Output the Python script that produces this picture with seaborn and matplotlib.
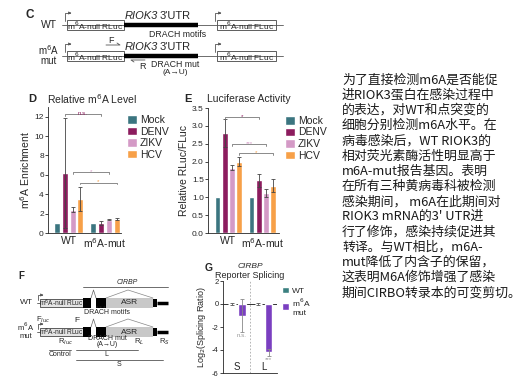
import numpy as np
import pandas as pd
import seaborn as sns
import matplotlib.pyplot as plt
from matplotlib.patches import Rectangle

# data
viruses = ['Mock', 'DENV', 'ZIKV', 'HCV']
groups = ['WT', 'm$^6$A-mut']
virus_colors = ['#3b7580', '#8c1c5e', '#d49ac6', '#f7a048']

# panel D: relative m6A level
d_wt = [1.0, 6.2, 2.4, 3.5]
d_mut = [1.0, 1.0, 1.35, 1.45]
d_wt_err = [0.0, 5.7, 0.25, 1.2]
d_mut_err = [0.0, 0.2, 0.05, 0.08]
d_ticks = [0, 2, 4, 6, 8, 10, 12]

# panel E: luciferase activity
e_wt = [1.0, 2.8, 1.83, 2.0]
e_mut = [1.0, 1.48, 1.12, 1.33]
e_wt_err = [0.0, 0.38, 0.07, 0.13]
e_mut_err = [0.0, 0.18, 0.1, 0.18]
e_ticks = [0.0, 0.5, 1.0, 1.5, 2.0, 2.5, 3.0, 3.5]

# panel G: reporter splicing
g_regions = ['S', 'L']
g_genotypes = ['WT', 'm$^6$A\nmut']
g_colors = ['#3b8080', '#7a3fc0']
g_wt = [0.0, 0.0]
g_mut = [-1.0, -4.2]
g_wt_err = [0.05, 0.05]
g_mut_err = [1.4, 0.3]
g_ticks = [2, 0, -2, -4, -6]

# significance: (virus index, level, label)
d_sig = [(1, 12.3, 'n.s.'), (2, 6.3, '*'), (3, 5.2, '*')]
e_sig = [(1, 3.25, '*'), (2, 2.5, '***'), (3, 2.23, '*')]

text_lines = [
    '为了直接检测m6A是否能促',
    '进RIOK3蛋白在感染过程中',
    '的表达，对WT和点突变的',
    '细胞分别检测m6A水平。在',
    '病毒感染后，WT RIOK3的',
    '相对荧光素酶活性明显高于',
    'm6A-mut报告基因。表明',
    '在所有三种黄病毒科被检测',
    '感染期间， m6A在此期间对',
    "RIOK3 mRNA的3' UTR进",
    '行了修饰，感染持续促进其',
    '转译。与WT相比，m6A-',
    'mut降低了内含子的保留，',
    '这表明M6A修饰增强了感染',
    '期间CIRBO转录本的可变剪切。',
]

sns.set_style('ticks')
plt.rcParams['font.family'] = ['Liberation Sans', 'DejaVu Sans']
plt.rcParams['axes.unicode_minus'] = False
plt.rcParams['axes.linewidth'] = 0.6

W, H = 521, 389
fig = plt.figure(figsize=(W / 100, H / 100), dpi=100)

bg = fig.add_axes([0, 0, 1, 1])
bg.set_xlim(0, W)
bg.set_ylim(H, 0)
bg.axis('off')


def px_axes(x0, y0, x1, y1):
    return fig.add_axes([x0 / W, 1 - y1 / H, (x1 - x0) / W, (y1 - y0) / H])


def bar_centers(ax):
    # bar centres by (category, hue) from seaborn's own containers
    centers = {}
    for hi, cont in enumerate(list(ax.containers)):
        for ci, bar in enumerate(cont):
            centers[(ci, hi)] = bar.get_x() + bar.get_width() / 2
    return centers


def bar_panel(ax, wt, mut, wt_err, mut_err, ticks, ylim, xlim, sig, ylabel):
    df = pd.DataFrame({
        'group': [groups[0]] * 4 + [groups[1]] * 4,
        'virus': viruses * 2,
        'value': wt + mut,
    })
    sns.barplot(data=df, x='group', y='value', hue='virus', hue_order=viruses,
                palette=virus_colors, errorbar=None, width=0.85, gap=0.22,
                saturation=1, ax=ax)
    errs = [wt_err, mut_err]
    vals = [wt, mut]
    centers = bar_centers(ax)
    for (gi, hi), cx in centers.items():
        if errs[gi][hi] > 0:
            ax.errorbar(cx, vals[gi][hi], yerr=errs[gi][hi], color='#444',
                        lw=0.6, capsize=1.5, capthick=0.6)
    for vi, lev, lab in sig:
        x0, x1 = centers[(0, vi)], centers[(1, vi)]
        tick = (ylim[1] - ylim[0]) * 0.015
        ax.plot([x0, x0, x1, x1], [lev - tick, lev, lev, lev - tick],
                color='#777', lw=0.6, clip_on=False)
        ax.text((x0 + x1) / 2, lev + tick * 0.3, lab, ha='center', va='center',
                fontsize=4.5, color=virus_colors[vi])
    ax.set_ylim(*ylim)
    ax.set_xlim(*xlim)
    ax.set_yticks(ticks)
    ax.tick_params(axis='y', labelsize=6, length=2, width=0.6, pad=1)
    ax.tick_params(axis='x', labelsize=7.5, length=0, pad=2)
    ax.set_xlabel('')
    ax.set_ylabel(ylabel, fontsize=7.5, labelpad=2)
    sns.despine(ax=ax)
    sns.move_legend(ax, 'upper left', bbox_to_anchor=(1.03, 0.97), frameon=False,
                    title=None, fontsize=7.5, handlelength=0.9, handleheight=0.9,
                    handletextpad=0.3, labelspacing=0.15, borderaxespad=0)


# panel D
axd = px_axes(48, 107, 121, 233)
bar_panel(axd, d_wt, d_mut, d_wt_err, d_mut_err, d_ticks, (0, 13), (-0.57, 1.44),
          d_sig, 'm$^6$A Enrichment')
axd.set_yticklabels([f'{t}' for t in d_ticks])
bg.text(32, 99, 'D', fontsize=8, fontweight='bold', va='center', ha='center')
bg.text(47, 99, 'Relative m$^6$A Level', fontsize=7.5, va='center', ha='left')

# panel E
axe = px_axes(208, 108, 279, 233)
bar_panel(axe, e_wt, e_mut, e_wt_err, e_mut_err, e_ticks, (0, 3.5), (-0.6, 1.49),
          e_sig, 'Relative RLuc/FLuc')
axe.set_yticklabels([f'{t:.1f}' for t in e_ticks])
bg.text(188, 99, 'E', fontsize=8, fontweight='bold', va='center', ha='center')
bg.text(207, 99, 'Luciferase Activity', fontsize=7.5, va='center', ha='left')

# panel G
axg = px_axes(223, 281, 277, 373)
gdf = pd.DataFrame({
    'region': g_regions * 2,
    'genotype': [g_genotypes[0]] * 2 + [g_genotypes[1]] * 2,
    'value': g_wt + g_mut,
})
sns.barplot(data=gdf, x='region', y='value', hue='genotype', hue_order=g_genotypes,
            palette=g_colors, errorbar=None, width=0.76, gap=0.25, saturation=1,
            ax=axg)
gvals = [g_wt, g_mut]
gerrs = [g_wt_err, g_mut_err]
for (ri, hi), cx in bar_centers(axg).items():
    axg.errorbar(cx, gvals[hi][ri], yerr=gerrs[hi][ri], color='#888' if hi else '#555',
                 lw=0.6, capsize=1.5, capthick=0.6)
    if hi == 1:
        lab = 'n.s.' if ri == 0 else '***'
        axg.text(cx, gvals[hi][ri] - gerrs[hi][ri] - 0.35, lab, ha='center',
                 va='center', fontsize=4.5, color='#999')
axg.axhline(0, color='#333', lw=0.7, zorder=0)
axg.axvline(0.5, color='#aaa', lw=0.6, ls=(0, (2, 2)))
axg.set_ylim(-6, 2)
axg.set_xlim(-0.53, 1.51)
axg.set_yticks(g_ticks)
axg.set_yticklabels([f'{t}' for t in g_ticks])
axg.tick_params(axis='y', labelsize=5.5, length=2, width=0.6, pad=1)
axg.tick_params(axis='x', labelsize=7, length=0, pad=-8)
axg.set_xlabel('')
axg.set_ylabel('Log$_2$(Splicing Ratio)', fontsize=6.5, labelpad=3)
sns.despine(ax=axg)
sns.move_legend(axg, 'upper left', bbox_to_anchor=(1.03, 0.97), frameon=False,
                title=None, fontsize=6, handlelength=0.9, handleheight=0.8,
                handletextpad=0.3, labelspacing=0.2, borderaxespad=0)
bg.text(209, 268, 'G', fontsize=7.5, fontweight='bold', va='center', ha='center')
bg.text(250, 267, 'CIRBP', fontsize=6, style='italic', va='center', ha='center')
bg.text(250, 275, 'Reporter Splicing', fontsize=6.5, va='center', ha='center')

# schematic C
line_c = '#555'


def box(x0, y0, x1, y1, label, fc='white', fs=6):
    bg.add_patch(Rectangle((x0, y0), x1 - x0, y1 - y0, fc=fc, ec='#444', lw=0.6))
    if label:
        bg.text((x0 + x1) / 2, (y0 + y1) / 2 + 0.5, label, fontsize=fs,
                ha='center', va='center')


def promoter(x, y, h=8, w=5):
    bg.plot([x, x, x + w], [y, y - h, y - h], color='#555', lw=0.6)
    bg.annotate('', xy=(x + w + 1.5, y - h), xytext=(x + w - 1, y - h),
                arrowprops=dict(arrowstyle='-|>', color='#555', lw=0.5,
                                mutation_scale=4))


bg.text(30, 15, 'C', fontsize=8.5, fontweight='bold', va='center', ha='center')
for yc in (25, 56):
    bg.plot([62, 283], [yc, yc], color=line_c, lw=0.6)
    box(67, yc - 5, 124, yc + 5, 'm$^6$A-null RLuc')
    box(217, yc - 5, 276, yc + 5, 'm$^6$A-null FLuc')
    bg.plot([124, 198], [yc, yc], color='black', lw=3.2, solid_capstyle='butt')
    promoter(65, yc - 4)
    promoter(215, yc - 4)
    bg.text(158, yc - 9, 'RIOK3', fontsize=8, style='italic', ha='right', va='center')
    bg.text(160, yc - 9, "3'UTR", fontsize=8, ha='left', va='center')
bg.text(49, 25, 'WT', fontsize=7.5, ha='center', va='center')
bg.text(49, 50, 'm$^6$A', fontsize=7, ha='center', va='center')
bg.text(49, 61, 'mut', fontsize=7, ha='center', va='center')
bg.text(178, 34, 'DRACH motifs', fontsize=6.3, ha='center', va='center')
bg.text(175, 64, 'DRACH mut', fontsize=6.3, ha='center', va='center')
bg.text(175, 72, '(A→U)', fontsize=6, ha='center', va='center')
bg.text(111, 40, 'F', fontsize=6.5, ha='center', va='center')
bg.plot([106, 120, 117], [45, 45, 43], color='#555', lw=0.6)
bg.text(142, 66, 'R', fontsize=6.5, ha='center', va='center')
bg.plot([145, 131, 134], [60, 60, 62], color='#555', lw=0.6)

# schematic F
bg.text(21, 276, 'F', fontsize=7, fontweight='bold', va='center', ha='center')
bg.plot([83, 168], [287, 287], color='#555', lw=0.6)
bg.text(127, 283, 'CIRBP', fontsize=5, style='italic', ha='center', va='center')
for yc in (303, 332):
    bg.plot([37, 40], [yc, yc], color='#555', lw=0.6)
    promoter(38, yc - 3, h=5, w=4)
    box(40, yc - 4, 83, yc + 4, 'm$^6$A-null RLuc', fc='#e4e4e4', fs=4.8)
    bg.add_patch(Rectangle((83, yc - 5), 8, 10, fc='black', ec='none'))
    bg.plot([91, 93.5, 96], [yc - 5, yc - 13, yc - 5], color='#666', lw=0.5)
    bg.add_patch(Rectangle((96, yc - 5), 10, 10, fc='black', ec='none'))
    bg.add_patch(Rectangle((106, yc - 5), 47, 10, fc='#c8c8c8', ec='none'))
    bg.text(129.5, yc, 'ASR', fontsize=6, ha='center', va='center')
    bg.plot([106, 128, 153], [yc - 5, yc - 13, yc - 5], color='#888', lw=0.5)
    bg.add_patch(Rectangle((153, yc - 4), 4, 8, fc='black', ec='none'))
    bg.plot([157, 168], [yc, yc], color='black', lw=2.5, solid_capstyle='butt')
bg.text(26, 303, 'WT', fontsize=6, ha='center', va='center')
bg.text(26, 327, 'm$^6$A', fontsize=5.5, ha='center', va='center')
bg.text(26, 337, 'mut', fontsize=5.5, ha='center', va='center')
bg.text(101, 308, '* * *', fontsize=4, ha='center', va='center')
bg.text(107, 313, 'DRACH motifs', fontsize=5, ha='center', va='center')
bg.text(107, 338, 'DRACH mut', fontsize=5, ha='center', va='center')
bg.text(107, 344, '(A→U)', fontsize=5, ha='center', va='center')
bg.text(43, 320, 'F$_{luc}$', fontsize=5.5, ha='center', va='center')
bg.text(77, 321, 'F', fontsize=6, ha='center', va='center')
bg.text(66, 342, 'R$_{luc}$', fontsize=5.5, ha='center', va='center')
bg.text(139, 342, 'R$_L$', fontsize=5.5, ha='center', va='center')
bg.text(164, 342, 'R$_S$', fontsize=5.5, ha='center', va='center')
bg.plot([49, 71], [350, 350], color='#555', lw=0.6)
bg.text(60, 355, 'Control', fontsize=5, ha='center', va='center')
bg.plot([76, 138], [350, 350], color='#555', lw=0.6)
bg.text(106, 355, 'L', fontsize=5, ha='center', va='center')
bg.plot([76, 163], [360, 360], color='#555', lw=0.6)
bg.text(119, 364, 'S', fontsize=5, ha='center', va='center')

# explanatory text
for i, line in enumerate(text_lines):
    bg.text(342, 80 + 15.2 * i, line, fontsize=9.3, color='#1a1a1a', va='center',
            ha='left', family=['Noto Sans CJK SC', 'DejaVu Sans'])

fig.savefig('out.png', dpi=100)
